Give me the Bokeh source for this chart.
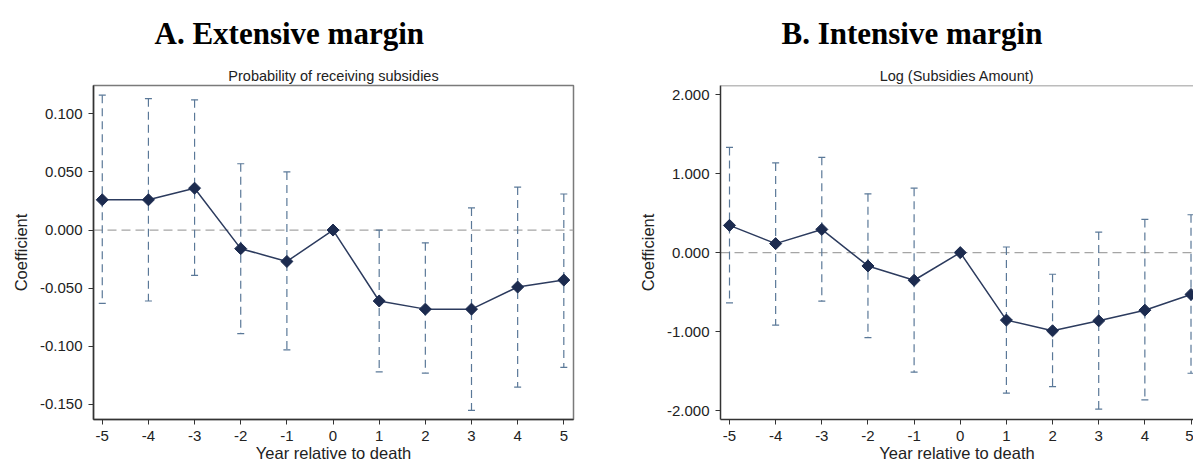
import numpy as np
from bokeh.plotting import figure
from bokeh.models import (Range1d, Span, Title, FixedTicker, NumeralTickFormatter,
                          ColumnDataSource)
from bokeh.layouts import row
from bokeh.embed import file_html
from bokeh.resources import INLINE

years = [-5, -4, -3, -2, -1, 0, 1, 2, 3, 4, 5]

# Panel A: Probability of receiving subsidies
ext_coef = [0.026, 0.026, 0.036, -0.016, -0.027, 0.000, -0.061, -0.068, -0.068, -0.049, -0.043]
ext_lo = [-0.063, -0.061, -0.039, -0.089, -0.103, np.nan, -0.122, -0.123, -0.155, -0.135, -0.118]
ext_hi = [0.116, 0.113, 0.112, 0.057, 0.050, np.nan, 0.000, -0.011, 0.019, 0.037, 0.031]

# Panel B: Log (Subsidies Amount)
int_coef = [0.345, 0.114, 0.294, -0.169, -0.350, 0.000, -0.855, -0.990, -0.864, -0.729, -0.530]
int_lo = [-0.636, -0.918, -0.615, -1.078, -1.515, np.nan, -1.780, -1.697, -1.982, -1.865, -1.528]
int_hi = [1.333, 1.136, 1.207, 0.745, 0.816, np.nan, 0.071, -0.274, 0.260, 0.420, 0.480]

ext_yticks = [-0.15, -0.10, -0.05, 0.0, 0.05, 0.10]
int_yticks = [-2.0, -1.0, 0.0, 1.0, 2.0]
x_ticks = years

NAVY = "#1c2b4f"
LINE = "#2c3b5e"
BAR = "#5a7898"
SANS = "Liberation Sans"


def make_panel(width, min_left, min_right, x_range, y_range, yticks, subtitle, title,
               coef, lo, hi, outline):
    p = figure(width=width, height=464, output_backend="svg", toolbar_location=None,
               x_range=Range1d(*x_range), y_range=Range1d(*y_range),
               min_border_left=min_left, min_border_right=min_right,
               min_border_top=85, min_border_bottom=44,
               background_fill_color="white", border_fill_color="white")
    p.xgrid.visible = False
    p.ygrid.visible = False
    if outline:
        p.outline_line_color = "#7a7a7a"
        p.outline_line_width = 1.5
    else:
        p.outline_line_color = None
        p.add_layout(Span(location=y_range[1], dimension="width", line_color="#7a7a7a",
                          line_width=1.5))

    big = Title(text=title, align="left", offset=61, text_font="Liberation Serif",
                text_font_size="31px", text_font_style="bold", text_color="#000000",
                standoff=27)
    sub = Title(text=subtitle, align="center", text_font=SANS, text_font_size="14.5px",
                text_font_style="normal", text_color="#222222", standoff=3)
    p.title = None
    p.above = [sub, big]

    # axes
    for ax in (p.xaxis[0], p.yaxis[0]):
        ax.axis_line_color = "#333333"
        ax.axis_line_width = 1.5
        ax.major_tick_line_color = "#333333"
        ax.major_tick_line_width = 1
        ax.major_tick_out = 5
        ax.major_tick_in = 0
        ax.minor_tick_line_color = None
        ax.major_label_text_font = SANS
        ax.major_label_text_font_size = "15px"
        ax.major_label_text_color = "#222222"
        ax.major_label_standoff = 6
        ax.axis_label_text_font = SANS
        ax.axis_label_text_font_size = "16.5px"
        ax.axis_label_text_font_style = "normal"
        ax.axis_label_text_color = "#222222"
    p.xaxis.ticker = FixedTicker(ticks=x_ticks)
    p.xaxis.formatter = NumeralTickFormatter(format="0")
    p.yaxis.ticker = FixedTicker(ticks=yticks)
    p.yaxis.formatter = NumeralTickFormatter(format="0.000")
    p.yaxis.axis_label = "Coefficient"
    p.yaxis.axis_label_standoff = 7
    p.xaxis.axis_label = "Year relative to death"
    p.xaxis.axis_label_standoff = 0

    # zero reference line
    p.add_layout(Span(location=0, dimension="width", line_color="#a5a5a5",
                      line_width=1.2, line_dash="9 5", level="underlay"))

    # confidence intervals
    xs = [x for x, l in zip(years, lo) if not np.isnan(l)]
    los = [l for l in lo if not np.isnan(l)]
    his = [h for h in hi if not np.isnan(h)]
    ci = ColumnDataSource(dict(x=xs, lo=los, hi=his))
    p.segment(x0="x", y0="hi", x1="x", y1="lo", source=ci, line_color=BAR,
              line_width=1.2, line_dash="8 5")
    p.scatter(x="x", y="hi", source=ci, marker="dash", size=7, line_color=BAR, line_width=1.2)
    p.scatter(x="x", y="lo", source=ci, marker="dash", size=7, line_color=BAR, line_width=1.2)

    # point estimates
    pts = ColumnDataSource(dict(x=years, y=coef))
    p.line(x="x", y="y", source=pts, line_color=LINE, line_width=1.5)
    p.scatter(x="x", y="y", source=pts, marker="square", angle=np.pi / 4, size=8.5,
              fill_color=NAVY, line_color=NAVY, line_width=1)
    return p


p1 = make_panel(627, 93, 54, (-5.19, 5.21), (-0.1629, 0.1243), ext_yticks,
                "Probability of receiving subsidies", "A. Extensive margin",
                ext_coef, ext_lo, ext_hi, True)
p2 = make_panel(566, 93, 0, (-5.195, 5.054), (-2.114, 2.117), int_yticks,
                "Log (Subsidies Amount)", "B. Intensive margin",
                int_coef, int_lo, int_hi, False)

layout = row(p1, p2)
open("out.html", "w").write(file_html(layout, INLINE))
